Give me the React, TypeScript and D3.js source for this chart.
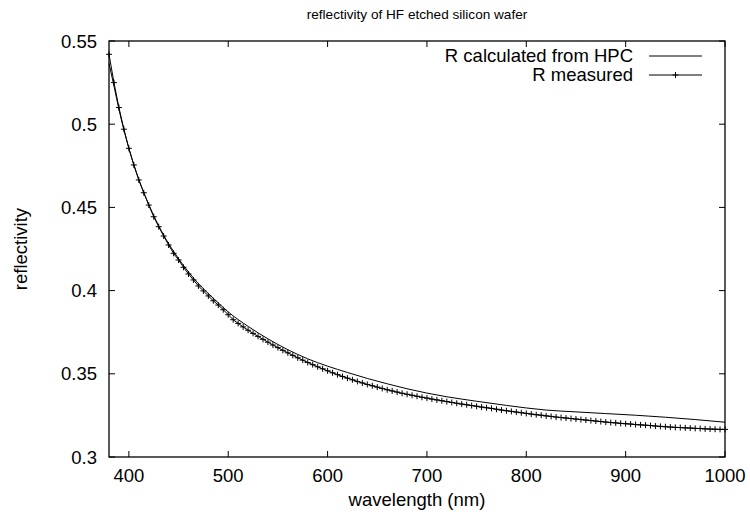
import React from "react";
import * as d3 from "d3";

const W = 750;
const H = 517;

const title = "reflectivity of HF etched silicon wafer";
const xLabel = "wavelength (nm)";
const yLabel = "reflectivity";
const seriesNames = ["R calculated from HPC", "R measured"];

const xTicks = [400, 500, 600, 700, 800, 900, 1000];
const yTicks = [0.3, 0.35, 0.4, 0.45, 0.5, 0.55];
const yTickLabels = ["0.3", "0.35", "0.4", "0.45", "0.5", "0.55"];

// measured wavelengths (nm), 5 nm step
const measuredWl = [
  380, 385, 390, 395, 400, 405, 410, 415, 420, 425, 430, 435, 440, 445, 450, 455, 460, 465, 470, 475,
  480, 485, 490, 495, 500, 505, 510, 515, 520, 525, 530, 535, 540, 545, 550, 555, 560, 565, 570, 575,
  580, 585, 590, 595, 600, 605, 610, 615, 620, 625, 630, 635, 640, 645, 650, 655, 660, 665, 670, 675,
  680, 685, 690, 695, 700, 705, 710, 715, 720, 725, 730, 735, 740, 745, 750, 755, 760, 765, 770, 775,
  780, 785, 790, 795, 800, 805, 810, 815, 820, 825, 830, 835, 840, 845, 850, 855, 860, 865, 870, 875,
  880, 885, 890, 895, 900, 905, 910, 915, 920, 925, 930, 935, 940, 945, 950, 955, 960, 965, 970, 975,
  980, 985, 990, 995, 1000,
];
const measuredR = [
  0.542, 0.525, 0.51, 0.497, 0.4855, 0.4755, 0.4665, 0.4588, 0.4514, 0.4444, 0.4384, 0.4328, 0.4274, 0.4224, 0.4184, 0.414, 0.41, 0.4064, 0.4028, 0.3998,
  0.3968, 0.3939, 0.3913, 0.3885, 0.3855, 0.3825, 0.3803, 0.3782, 0.3762, 0.3743, 0.3725, 0.3707, 0.369, 0.3673, 0.3657, 0.3641, 0.3626, 0.3611, 0.3596, 0.3582,
  0.3568, 0.3555, 0.3542, 0.353, 0.3518, 0.3506, 0.3495, 0.3484, 0.3474, 0.3464, 0.3454, 0.3445, 0.3436, 0.3428, 0.342, 0.3412, 0.3404, 0.3397, 0.339, 0.3383,
  0.3377, 0.3371, 0.3365, 0.3359, 0.3354, 0.3348, 0.3343, 0.3338, 0.3333, 0.3328, 0.3323, 0.3318, 0.3314, 0.3309, 0.3305, 0.33, 0.3296, 0.3292, 0.3287, 0.3282,
  0.3278, 0.3274, 0.327, 0.3266, 0.3262, 0.3258, 0.3254, 0.3251, 0.3247, 0.3244, 0.324, 0.3237, 0.3234, 0.3231, 0.3228, 0.3225, 0.3222, 0.3219, 0.3216, 0.3213,
  0.321, 0.3207, 0.3205, 0.3202, 0.32, 0.3198, 0.3195, 0.3193, 0.3191, 0.3189, 0.3186, 0.3184, 0.3182, 0.318, 0.3178, 0.3177, 0.3175, 0.3174, 0.3172, 0.3171,
  0.3169, 0.3168, 0.3167, 0.3166, 0.3166,
];

// calculated curve
const calcWl = [380, 385, 390, 400, 410, 420, 430, 440, 450, 460, 470, 480, 490, 500, 520, 540, 560, 580, 600, 620, 640, 660, 680, 700, 720, 750, 780, 820, 850, 880, 910, 940, 970, 1000];
const calcR = [0.5366, 0.523, 0.509, 0.4855, 0.4668, 0.4518, 0.439, 0.4282, 0.4192, 0.4112, 0.4042, 0.3982, 0.3926, 0.3872, 0.3785, 0.371, 0.3645, 0.359, 0.3546, 0.3508, 0.3472, 0.344, 0.341, 0.3384, 0.3362, 0.3335, 0.331, 0.3282, 0.3271, 0.3261, 0.3251, 0.3239, 0.3225, 0.3209];

export default function App() {
  const m = { left: 109, right: 725, top: 41, bottom: 457 };
  const x = d3.scaleLinear().domain([380, 1000]).range([m.left, m.right]);
  const y = d3.scaleLinear().domain([0.3, 0.55]).range([m.bottom, m.top]);

  const calcPts: [number, number][] = calcWl.map((w, i) => [w, calcR[i]]);
  const measPts: [number, number][] = measuredWl.map((w, i) => [w, measuredR[i]]);

  const lineCalc = d3
    .line<[number, number]>()
    .x((d) => x(d[0]))
    .y((d) => y(d[1]))
    .curve(d3.curveMonotoneX);
  const lineMeas = d3
    .line<[number, number]>()
    .x((d) => x(d[0]))
    .y((d) => y(d[1]));

  const tl = 6;
  const font = "'Liberation Sans', Arial, Helvetica, sans-serif";
  const fs = 18.5;
  const cs = 3;
  const legX1 = 649;
  const legX2 = 702;
  const legTextX = 633;

  return (
    <svg
      width={W}
      height={H}
      style={{ position: "absolute", left: 0, top: 0, background: "#fff" }}
      fontFamily={font}
    >
      <rect x={0} y={0} width={W} height={H} fill="#fff" />
      <text x={417} y={19} textAnchor="middle" fontSize={13.6} fill="#000">
        {title}
      </text>

      {/* ticks */}
      {xTicks.map((t) => (
        <g key={"x" + t}>
          <line x1={x(t)} x2={x(t)} y1={m.bottom} y2={m.bottom - tl} stroke="#000" />
          <line x1={x(t)} x2={x(t)} y1={m.top} y2={m.top + tl} stroke="#000" />
          <text x={x(t)} y={482} textAnchor="middle" fontSize={fs} fill="#000">
            {t}
          </text>
        </g>
      ))}
      {yTicks.map((t, i) => (
        <g key={"y" + t}>
          <line x1={m.left} x2={m.left + tl} y1={y(t)} y2={y(t)} stroke="#000" />
          <line x1={m.right} x2={m.right - tl} y1={y(t)} y2={y(t)} stroke="#000" />
          <text x={97} y={y(t) + 6.5} textAnchor="end" fontSize={fs} fill="#000">
            {yTickLabels[i]}
          </text>
        </g>
      ))}

      <rect
        x={m.left}
        y={m.top}
        width={m.right - m.left}
        height={m.bottom - m.top}
        fill="none"
        stroke="#000"
        strokeWidth={1.3}
      />

      <text x={417} y={506} textAnchor="middle" fontSize={fs} fill="#000">
        {xLabel}
      </text>
      <text
        transform={`translate(27,${(m.top + m.bottom) / 2}) rotate(-90)`}
        textAnchor="middle"
        fontSize={fs}
        fill="#000"
      >
        {yLabel}
      </text>

      {/* series */}
      <path d={lineCalc(calcPts) || ""} fill="none" stroke="#000" strokeWidth={1} />
      <path d={lineMeas(measPts) || ""} fill="none" stroke="#000" strokeWidth={1} />
      {measPts.map((d, i) => (
        <path
          key={"p" + i}
          d={`M${x(d[0]) - cs},${y(d[1])}h${2 * cs}M${x(d[0])},${y(d[1]) - cs}v${2 * cs}`}
          stroke="#000"
          strokeWidth={1}
          fill="none"
        />
      ))}

      {/* legend */}
      <text x={legTextX} y={62} textAnchor="end" fontSize={fs} fill="#000">
        {seriesNames[0]}
      </text>
      <line x1={legX1} x2={legX2} y1={56} y2={56} stroke="#000" />
      <text x={legTextX} y={81} textAnchor="end" fontSize={fs} fill="#000">
        {seriesNames[1]}
      </text>
      <line x1={legX1} x2={legX2} y1={75} y2={75} stroke="#000" />
      <path
        d={`M${(legX1 + legX2) / 2 - cs},75h${2 * cs}M${(legX1 + legX2) / 2},${75 - cs}v${2 * cs}`}
        stroke="#000"
        fill="none"
      />
    </svg>
  );
}
